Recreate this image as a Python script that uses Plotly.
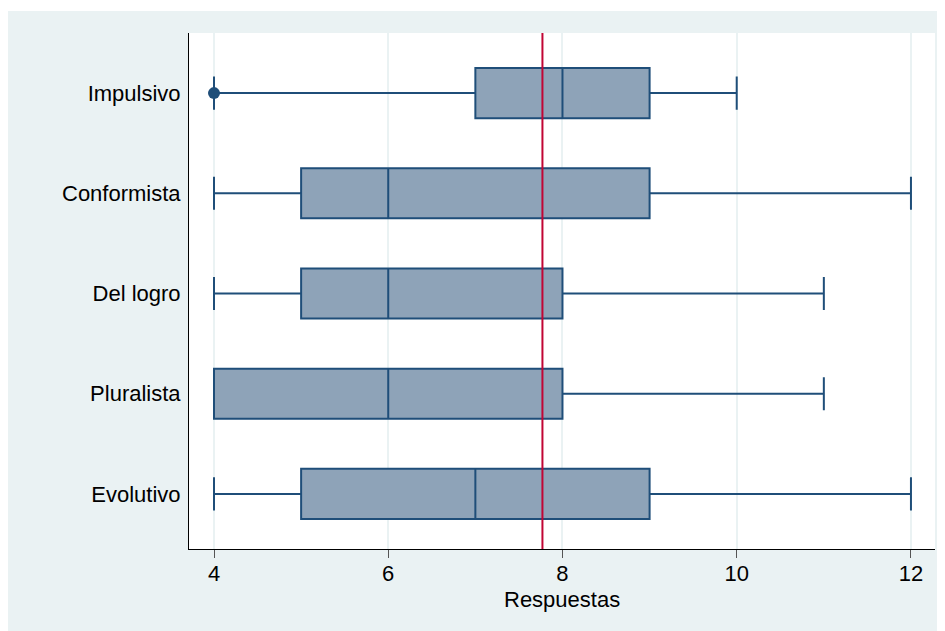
import plotly.graph_objects as go

categories = ["Evolutivo", "Pluralista", "Del logro", "Conformista", "Impulsivo"]
lower_whisker = [4, 4, 4, 4, 4]
q1_values = [5, 4, 5, 5, 7]
median_values = [7, 6, 6, 6, 8]
q3_values = [9, 8, 8, 9, 9]
upper_whisker = [12, 11, 11, 12, 10]
outlier_x = [4]
outlier_cat = ["Impulsivo"]
reference_value = 7.77
x_ticks = [4, 6, 8, 10, 12]

navy = "#1f4e79"
fig = go.Figure()
fig.add_trace(go.Box(
    y=categories, q1=q1_values, median=median_values, q3=q3_values,
    lowerfence=lower_whisker, upperfence=upper_whisker,
    orientation="h", fillcolor="#8ea3b8", line=dict(color=navy, width=2),
    whiskerwidth=0.66, width=0.5, boxpoints=False, showlegend=False,
    hoverinfo="skip"))
fig.add_trace(go.Scatter(
    x=outlier_x, y=outlier_cat, mode="markers",
    marker=dict(color=navy, size=12, symbol="circle"), showlegend=False))

fig.add_shape(type="line", xref="x", yref="paper", x0=reference_value, x1=reference_value,
              y0=0, y1=1, line=dict(color="#c10534", width=2), layer="above")
# thin white band at the top of the outer background
fig.add_shape(type="rect", xref="paper", yref="paper", x0=-0.5, x1=1.2, y0=1.0426, y1=1.2,
              fillcolor="white", line=dict(width=0), layer="above")

fig.add_annotation(text="Respuestas", xref="paper", yref="paper", x=0.5, y=-0.097,
                   xanchor="center", yanchor="middle", showarrow=False,
                   font=dict(size=22, color="black"))

fig.update_layout(
    width=945, height=631,
    margin=dict(l=181, r=18, t=25, b=90),
    paper_bgcolor="#eaf2f3", plot_bgcolor="white",
    font=dict(family="Liberation Sans, Arial, sans-serif", size=22, color="black"),
    xaxis=dict(range=[3.713, 12.276], tickvals=x_ticks, showgrid=True,
               gridcolor="#eaf2f3", gridwidth=2, zeroline=False,
               showline=True, linecolor="black", linewidth=1,
               ticks="outside", ticklen=8, tickcolor="#555555", tickwidth=1,
               ticklabelstandoff=-3),
    yaxis=dict(type="category", categoryorder="array", categoryarray=categories,
               range=[-0.55, 4.6], showgrid=False, zeroline=False,
               showline=True, linecolor="black", linewidth=1,
               ticks="outside", ticklen=3, tickcolor="rgba(0,0,0,0)"),
)
fig.write_html("out.html")
